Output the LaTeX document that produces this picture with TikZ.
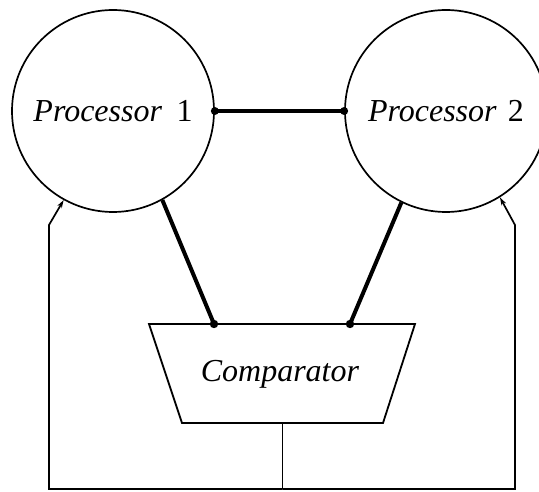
\documentclass[tikz,border=0pt]{standalone}
\usepackage{fontspec}
\setmainfont{Liberation Serif}
\usetikzlibrary{arrows.meta}
\begin{document}
\begin{tikzpicture}[x=1pt,y=1pt,
  proc/.style={circle,draw,line width=1.7pt,minimum size=202pt,inner sep=0pt,
    font=\fontsize{32}{38}\selectfont},
  lbl/.style={font=\fontsize{32}{38}\selectfont,inner sep=0pt},
  bus/.style={line width=4pt},
  outline/.style={line width=1.8pt,line join=miter},
  wire/.style={line width=1.7pt},
  feed/.style={wire,-{Stealth[length=8pt,width=5pt]}},
  dot/.style={fill=black}]
\useasboundingbox (0,0) rectangle (539,491);
\clip (0,0) rectangle (539,491);

% the two processors
\node[proc] (p1) at (113,380) {\textit{Processor}\hspace{0.45em}1};
\node[proc] (p2) at (446,380) {\textit{Processor}\hspace{0.35em}2};

% comparator as an inverted trapezium
\coordinate (tl) at (149,167);
\coordinate (tr) at (415,167);
\coordinate (br) at (383,68);
\coordinate (bl) at (182,68);
\draw[outline] (tl) -- (tr) -- (br) -- (bl) -- cycle;
\node[lbl] (cmp) at (280,117) {\textit{Comparator}};

% link between the processors
\draw[bus] (p1.east) -- (p2.west);
\fill[dot] (p1.east) circle (4pt);
\fill[dot] (p2.west) circle (4pt);

% processor outputs into the comparator
\coordinate (in1) at (214,167);
\coordinate (in2) at (350,167);
\draw[bus] (p1.-61) -- (in1);
\draw[bus] (p2.-116.3) -- (in2);
\fill[dot] (in1) circle (4.2pt);
\fill[dot] (in2) circle (4.2pt);

% comparator result fed back to both processors
\coordinate (out) at (282.5,68);
\coordinate (base) at (282.5,2);
\coordinate (lb) at (49,2);
\coordinate (lu) at (49,266);
\coordinate (rb) at (515,2);
\coordinate (ru) at (515,266);
\draw[wire] (out) -- (base);
\draw[feed] (base) -- (lb) -- (lu) -- (p1.-119.3);
\draw[feed] (base) -- (rb) -- (ru) -- (p2.-58.8);
\end{tikzpicture}
\end{document}
